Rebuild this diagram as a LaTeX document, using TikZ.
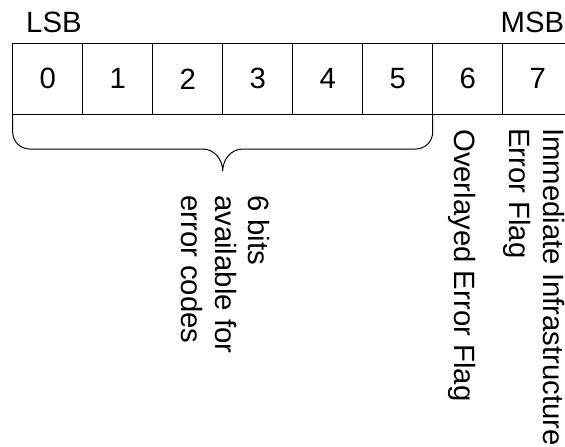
\documentclass[tikz,border=0pt]{standalone}
\usepackage{fontspec}
\setmainfont{Liberation Sans}
\usetikzlibrary{positioning,calc}
\begin{document}
\begin{tikzpicture}[x=1pt,y=-1pt,
  cell/.style={draw, line width=1.3pt, minimum width=70pt, minimum height=71pt, inner sep=0pt, outer sep=0pt, font=\fontsize{29.33}{33.7}\selectfont},
  lbl/.style={inner sep=0pt, font=\fontsize{29.33}{33.7}\selectfont},
  vlbl/.style={lbl, rotate=-90, align=left, anchor=north west},
  bracel/.style={draw, line width=1pt}]
\useasboundingbox (0,0) rectangle (565,447);
\clip (0,0) rectangle (565,447);
\fill[white] (0,0) rectangle (565,447);
\node[cell] (c0) at (47.7,78.8) {0};
\node[cell, right=0pt of c0] (c1) {1};
\node[cell, right=0pt of c1] (c2) {2};
\node[cell, right=0pt of c2] (c3) {3};
\node[cell, right=0pt of c3] (c4) {4};
\node[cell, right=0pt of c4] (c5) {5};
\node[cell, right=0pt of c5] (c6) {6};
\node[cell, right=0pt of c6] (c7) {7};
\node[lbl, anchor=base west] (lsb) at (26,32.3) {LSB};
\node[lbl, anchor=base east] (msb) at (564.5,32.3) {MSB};
\coordinate (tip) at ($(c0.south west)!0.5!(c5.south east)+(0,56.7)$);
\draw[bracel] (c0.south west) -- ++(0,17.7) .. controls +(0,9.4) and +(-9.4,0) .. ++(17,17)
  -- ($(tip)+(-20,-22)$) .. controls +(12,0) and +(0,-11) .. (tip)
  .. controls +(0,-11) and +(-12,0) .. ($(tip)+(20,-22)$)
  -- ($(c5.south east)+(-17,34.7)$) .. controls +(9.4,0) and +(0,9.4) .. ($(c5.south east)+(0,17.7)$)
  -- (c5.south east);
\node[vlbl] (bits) at (270.4,195) {6 bits\\available for\\error codes};
\node[vlbl] (ovl) at (476.4,129) {Overlayed Error Flag};
\node[vlbl] (imm) at (564.6,128) {Immediate Infrastructure\\Error Flag};
\end{tikzpicture}
\end{document}
